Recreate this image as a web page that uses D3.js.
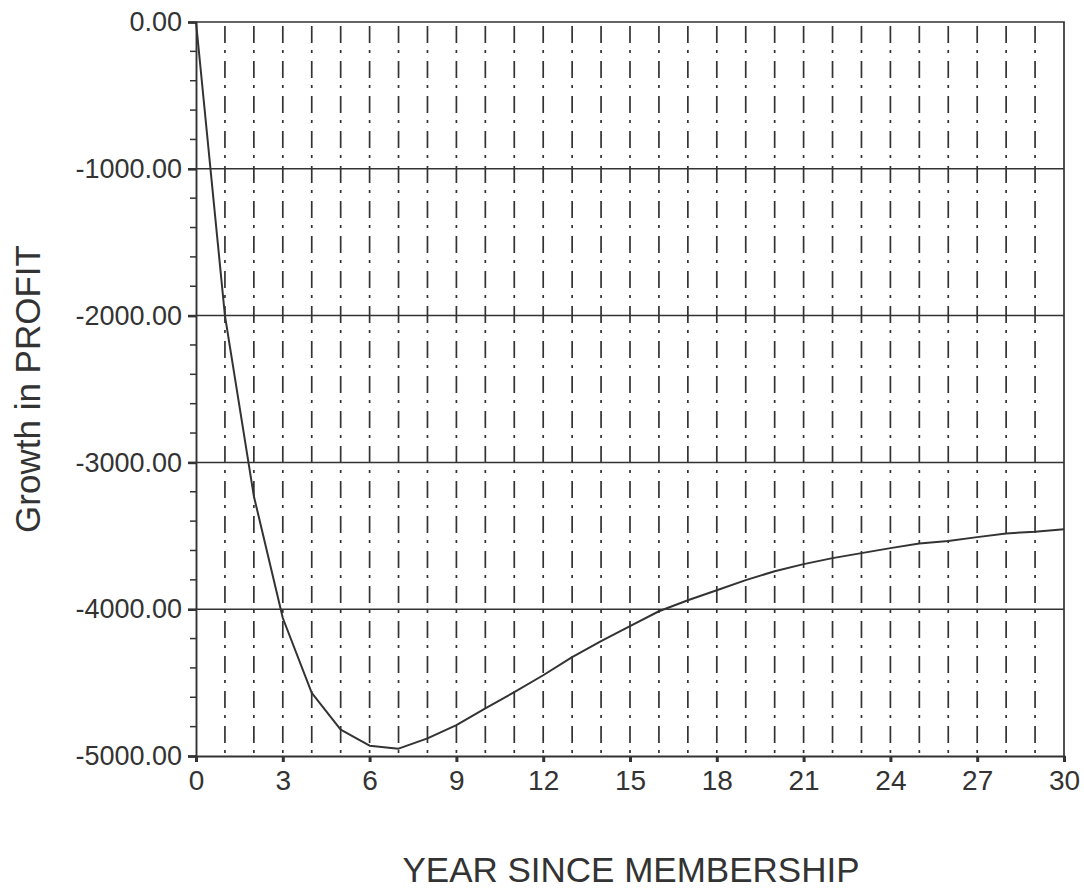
<!DOCTYPE html>
<html>
<head>
<meta charset="utf-8">
<script src="https://cdn.jsdelivr.net/npm/d3@7"></script>
<style>
  html, body { margin: 0; padding: 0; background: #ffffff; }
  svg { display: block; }
  text { font-family: "Liberation Sans", Arial, sans-serif; fill: #333; }
</style>
</head>
<body>
<svg id="chart" width="1084" height="888"></svg>
<script>
// Profit growth by year since membership
const years = d3.range(0, 31);
const growth = [
  0, -2000, -3230, -4060, -4570, -4820, -4930, -4950, -4880, -4790,
  -4675, -4565, -4450, -4327, -4218, -4116, -4014, -3939, -3871, -3802,
  -3741, -3693, -3652, -3618, -3584, -3552, -3535, -3509, -3484, -3472,
  -3455
];
const xTickValues = [0, 3, 6, 9, 12, 15, 18, 21, 24, 27, 30];
const yTickValues = [0, -1000, -2000, -3000, -4000, -5000];
const yMinorValues = d3.range(0, -5001, -200);
const xTitle = "YEAR SINCE MEMBERSHIP";
const yTitle = "Growth in PROFIT";

const svg = d3.select("#chart");
const plotLeft = 196, plotRight = 1064, plotTop = 22, plotBottom = 756;

const x = d3.scaleLinear().domain([0, 30]).range([plotLeft, plotRight]);
const y = d3.scaleLinear().domain([-5000, 0]).range([plotBottom, plotTop]);
const ink = "#333";

// vertical dash-dot grid at every year
svg.append("g")
  .selectAll("line")
  .data(years.filter(d => d > 0 && d < 30))
  .join("line")
  .attr("x1", d => x(d)).attr("x2", d => x(d))
  .attr("y1", plotTop + 4).attr("y2", plotBottom)
  .attr("stroke", ink)
  .attr("stroke-width", 1.7)
  .attr("stroke-dasharray", "17,7,3,8");

// horizontal grid at each labelled value
svg.append("g")
  .selectAll("line")
  .data(yTickValues.filter(d => d < 0 && d > -5000))
  .join("line")
  .attr("x1", plotLeft).attr("x2", plotRight)
  .attr("y1", d => y(d)).attr("y2", d => y(d))
  .attr("stroke", ink)
  .attr("stroke-width", 1.5);

// frame: top and right edges
svg.append("path")
  .attr("d", `M${plotLeft},${plotTop}H${plotRight}V${plotBottom}`)
  .attr("fill", "none")
  .attr("stroke", ink)
  .attr("stroke-width", 1.7);

// y axis
const yAxis = d3.axisLeft(y)
  .tickValues(yTickValues)
  .tickSize(8)
  .tickPadding(6)
  .tickFormat(d => d.toFixed(2));
const gy = svg.append("g").attr("transform", `translate(${plotLeft},0)`).call(yAxis);
gy.select(".domain").attr("stroke", ink).attr("stroke-width", 1.9);
gy.selectAll(".tick line").attr("stroke", ink).attr("stroke-width", 2.6);
gy.selectAll(".tick text")
  .attr("font-size", 27)
  .attr("fill", ink)
  .style("font-family", "'Liberation Sans', Arial, sans-serif");

// minor y ticks
svg.append("g")
  .selectAll("line")
  .data(yMinorValues.filter(d => d % 1000 !== 0))
  .join("line")
  .attr("x1", plotLeft - 6).attr("x2", plotLeft)
  .attr("y1", d => y(d)).attr("y2", d => y(d))
  .attr("stroke", ink)
  .attr("stroke-width", 1.5);

// x axis
const xAxis = d3.axisBottom(x)
  .tickValues(xTickValues)
  .tickSize(6)
  .tickPadding(8)
  .tickFormat(d3.format("d"));
const gx = svg.append("g").attr("transform", `translate(0,${plotBottom})`).call(xAxis);
gx.select(".domain").attr("stroke", ink).attr("stroke-width", 1.9);
gx.selectAll(".tick line").attr("stroke", ink).attr("stroke-width", 3);
gx.selectAll(".tick text")
  .attr("font-size", 28)
  .attr("fill", ink)
  .style("font-family", "'Liberation Sans', Arial, sans-serif");

// profit curve
const line = d3.line().x((d, i) => x(years[i])).y(d => y(d));
svg.append("path")
  .datum(growth)
  .attr("d", line)
  .attr("fill", "none")
  .attr("stroke", ink)
  .attr("stroke-width", 2)
  .attr("stroke-linejoin", "round");

// axis titles
svg.append("text")
  .attr("x", 631).attr("y", 882)
  .attr("text-anchor", "middle")
  .attr("font-size", 35)
  .text(xTitle);

svg.append("text")
  .attr("transform", "translate(40,389) rotate(-90)")
  .attr("text-anchor", "middle")
  .attr("font-size", 35)
  .text(yTitle);
</script>
</body>
</html>
